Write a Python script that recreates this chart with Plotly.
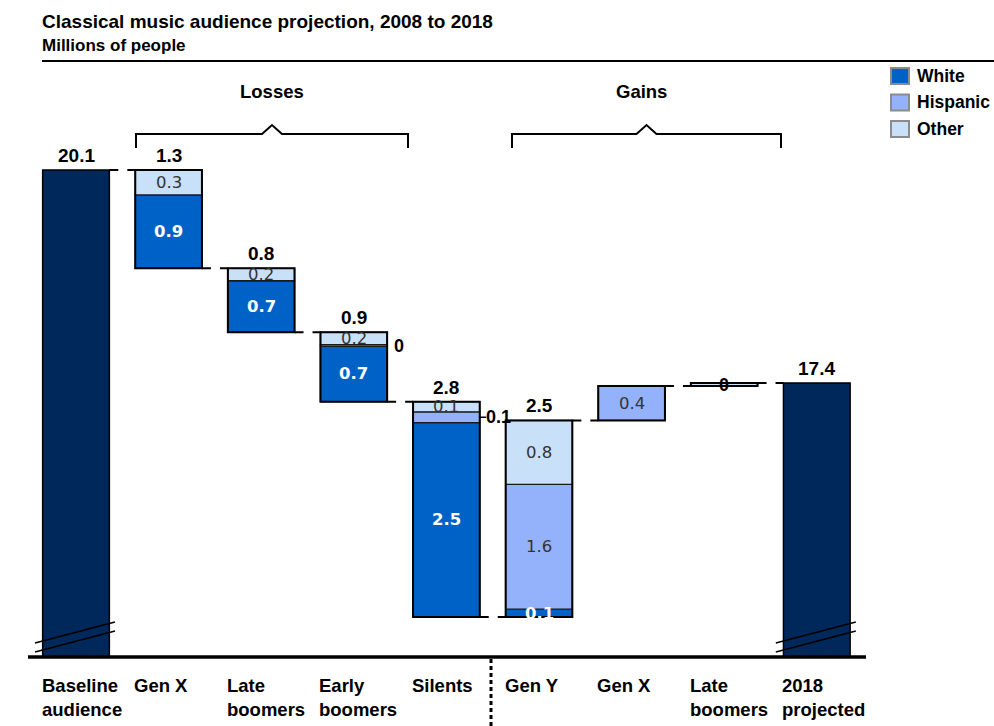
import plotly.graph_objects as go

# ---- data -------------------------------------------------------------
category_labels = ["Baseline<br>audience", "Gen X", "Late<br>boomers", "Early<br>boomers",
                   "Silents", "Gen Y", "Gen X", "Late<br>boomers", "2018<br>projected"]
baseline_audience = 20.14
change_kind = ["loss", "loss", "loss", "loss", "gain", "gain", "gain"]
white = [0.94, 0.66, 0.71, 2.49, 0.10, 0.0, 0.0]
hispanic = [0.0, 0.0, 0.02, 0.14, 1.60, 0.44, 0.0]
other = [0.32, 0.16, 0.16, 0.13, 0.82, 0.0, 0.04]
series_names = ["White", "Hispanic", "Other"]
group_labels = ["Losses", "Gains"]

title_text = "Classical music audience projection, 2008 to 2018"
subtitle_text = "Millions of people"

# ---- styling ------------------------------------------------------------
W, H = 994, 726
NAVY = "#00285A"
COLORS = {"White": "#0062C6", "Hispanic": "#94B1FB", "Other": "#C8E0F8"}
BOLD = "Liberation Sans, Arial, sans-serif"
THIN = "DejaVu Sans, Verdana, sans-serif"
BAR_W = 0.72
HALF = BAR_W / 2

# pixel geometry of the plotting frame
AXIS_PX = 656          # y pixel of the category axis
PX_PER_UNIT = 78.0
X0_PX, X_STEP = 76, 92.6
y_bottom = baseline_audience - (AXIS_PX - 170) / PX_PER_UNIT
y_top = y_bottom + AXIS_PX / PX_PER_UNIT
x_lo = -X0_PX / X_STEP
x_hi = (W - X0_PX) / X_STEP


def px(p):
    return p / W


def py(p):
    return (H - p) / H


def fmt(v):
    s = f"{v:.1f}"
    return "0" if s == "0.0" else s


# ---- waterfall stacking -----------------------------------------------------
level = baseline_audience
stack = {n: {"x": [], "y": [], "base": []} for n in series_names}
col_bottom, col_top, levels = [], [], [baseline_audience]
for i, kind in enumerate(change_kind):
    vals = {"White": white[i], "Hispanic": hispanic[i], "Other": other[i]}
    total = sum(vals.values())
    bottom = level - total if kind == "loss" else level
    b = bottom
    for n in series_names:
        stack[n]["x"].append(i + 1)
        stack[n]["y"].append(vals[n] if vals[n] > 0 else None)
        stack[n]["base"].append(b)
        b += vals[n]
    col_bottom.append(bottom)
    col_top.append(bottom + total)
    level = bottom if kind == "loss" else bottom + total
    levels.append(level)
projected = level

fig = go.Figure()

# baseline and projected totals (axis is broken below)
fig.add_trace(go.Bar(
    x=[0, len(category_labels) - 1], y=[baseline_audience, projected], base=0,
    width=BAR_W, marker=dict(color=NAVY, line=dict(color="black", width=1.5)),
    showlegend=False, hoverinfo="skip"))

for n in series_names:
    fig.add_trace(go.Bar(
        x=stack[n]["x"], y=stack[n]["y"], base=stack[n]["base"], name=n,
        width=BAR_W, marker=dict(color=COLORS[n], line=dict(color="#1a1a1a", width=1.3)),
        showlegend=False, hoverinfo="skip"))

shapes, ann = [], []

# outer outline of each change column
for i in range(len(change_kind)):
    shapes.append(dict(type="rect", xref="x", yref="y", x0=i + 1 - HALF, x1=i + 1 + HALF,
                       y0=col_bottom[i], y1=col_top[i], line=dict(color="black", width=2)))

# dashed connectors between columns
for i, lv in enumerate(levels):
    shapes.append(dict(type="line", xref="x", yref="y", x0=i + HALF, x1=i + 1 - HALF,
                       y0=lv, y1=lv, line=dict(color="black", width=2, dash="dash")))

# segment labels
for i, kind in enumerate(change_kind):
    b = col_bottom[i]
    for n in series_names:
        v = {"White": white[i], "Hispanic": hispanic[i], "Other": other[i]}[n]
        if v <= 0:
            continue
        mid = b + v / 2
        if n == "Hispanic" and kind == "loss" and v < 0.2:
            if v > 0.05:
                shapes.append(dict(type="line", xref="x", yref="y", x0=i + 1 + HALF,
                                   x1=i + 1 + HALF + 0.07, y0=mid, y1=mid,
                                   line=dict(color="black", width=1.5)))
            ann.append(dict(x=i + 1 + HALF + 0.05, y=mid, xref="x", yref="y", text=fmt(v),
                            showarrow=False, xanchor="left", yanchor="middle",
                            font=dict(family=BOLD, size=18, color="black", weight="bold")))
        elif v < 0.05:
            ann.append(dict(x=i + 1, y=mid, xref="x", yref="y", text=fmt(v), showarrow=False,
                            xanchor="center", yanchor="middle",
                            font=dict(family=BOLD, size=18, color="black", weight="bold")))
        else:
            is_white = n == "White"
            ann.append(dict(x=i + 1, y=mid, xref="x", yref="y", text=fmt(v), showarrow=False,
                            xanchor="center", yanchor="middle",
                            font=dict(family=THIN, size=16.5,
                                      color="white" if is_white else "#333333",
                                      weight="bold" if is_white else "normal")))
        b += v

# column totals
totals = [(0, baseline_audience, baseline_audience)]
for i in range(len(change_kind)):
    parts = [v for v in (white[i], hispanic[i], other[i]) if v > 0]
    if len(parts) > 1:
        totals.append((i + 1, col_top[i], col_top[i] - col_bottom[i]))
totals.append((len(category_labels) - 1, projected, projected))
for x, top, v in totals:
    ann.append(dict(x=x, y=top, xref="x", yref="y", text=fmt(v), showarrow=False,
                    xanchor="center", yanchor="bottom", yshift=2,
                    font=dict(family=BOLD, size=19, color="black", weight="bold")))

# category labels under the axis
for i, lab in enumerate(category_labels):
    ann.append(dict(x=i - HALF, y=py(673), xref="x", yref="paper", text=lab, showarrow=False,
                    xanchor="left", yanchor="top", align="left", xshift=-3,
                    font=dict(family=BOLD, size=18.5, color="black", weight="bold")))

# axis line, divider and axis-break marks
shapes.append(dict(type="line", xref="paper", yref="paper", x0=px(28), x1=px(866),
                   y0=py(AXIS_PX + 1), y1=py(AXIS_PX + 1), line=dict(color="black", width=3.5)))
shapes.append(dict(type="line", xref="paper", yref="paper", x0=px(491), x1=px(491),
                   y0=py(659), y1=py(726), line=dict(color="black", width=3, dash="4px,3px")))
for c in (0, len(category_labels) - 1):
    cx = X0_PX + c * X_STEP
    for off in (0, 9):
        shapes.append(dict(type="line", xref="paper", yref="paper",
                           x0=px(cx - 41), y0=py(643 + off), x1=px(cx + 39), y1=py(622 + off),
                           line=dict(color="black", width=1.5)))

# loss / gain brackets
for lab, (l, r), tx in zip(group_labels, [(136, 408), (512, 781)], [272, 641]):
    m = (l + r) / 2
    path = (f"M {px(l)},{py(148)} L {px(l)},{py(134)} L {px(m - 10)},{py(134)} "
            f"L {px(m)},{py(125)} L {px(m + 10)},{py(134)} L {px(r)},{py(134)} L {px(r)},{py(148)}")
    shapes.append(dict(type="path", xref="paper", yref="paper", path=path,
                       line=dict(color="black", width=2)))
    ann.append(dict(x=px(tx), y=py(92), xref="paper", yref="paper", text=lab, showarrow=False,
                    xanchor="center", yanchor="middle",
                    font=dict(family=BOLD, size=18.5, color="black", weight="bold")))

# title block
ann.append(dict(x=px(42), y=py(22), xref="paper", yref="paper", text=title_text,
                showarrow=False, xanchor="left", yanchor="middle", xshift=-2,
                font=dict(family=BOLD, size=19, color="black", weight="bold")))
ann.append(dict(x=px(42), y=py(45), xref="paper", yref="paper", text=subtitle_text,
                showarrow=False, xanchor="left", yanchor="middle", xshift=-2,
                font=dict(family=BOLD, size=17, color="black", weight="bold")))
shapes.append(dict(type="line", xref="paper", yref="paper", x0=px(42), x1=px(994),
                   y0=py(61), y1=py(61), line=dict(color="black", width=2)))

# legend
for k, n in enumerate(series_names):
    cy = 76 + k * 26.5
    shapes.append(dict(type="rect", xref="paper", yref="paper", x0=px(891), x1=px(909),
                       y0=py(cy - 8), y1=py(cy + 8), fillcolor=COLORS[n],
                       line=dict(color="#8c8c8c", width=2)))
    ann.append(dict(x=px(915), y=py(cy), xref="paper", yref="paper", text=n, showarrow=False,
                    xanchor="left", yanchor="middle",
                    font=dict(family=BOLD, size=17.5, color="black", weight="bold")))

fig.update_layout(
    width=W, height=H, margin=dict(l=0, r=0, t=0, b=0),
    paper_bgcolor="white", plot_bgcolor="white",
    barmode="overlay", showlegend=False,
    xaxis=dict(range=[x_lo, x_hi], visible=False, fixedrange=True),
    yaxis=dict(range=[y_bottom, y_top], domain=[(H - AXIS_PX) / H, 1], visible=False,
               fixedrange=True),
    shapes=shapes, annotations=ann,
)

fig.write_html("out.html")
